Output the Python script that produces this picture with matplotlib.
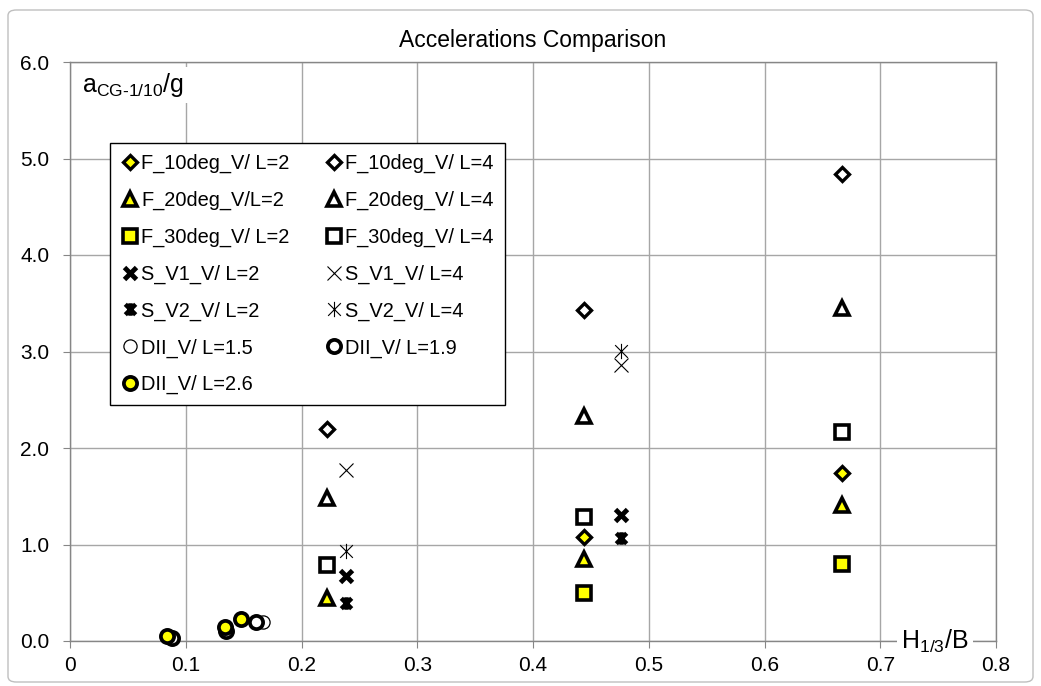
import numpy as np
import matplotlib
matplotlib.use('Agg')
import matplotlib.pyplot as plt
from matplotlib.path import Path
from matplotlib.patches import FancyBboxPatch

plt.rcParams['font.family'] = ['Liberation Sans', 'DejaVu Sans']
plt.rcParams['mathtext.fontset'] = 'custom'
plt.rcParams['mathtext.rm'] = 'Liberation Sans'
plt.rcParams['mathtext.it'] = 'Liberation Sans'

# H1/3/B values
x_F = [0.2222, 0.4444, 0.6667]
x_S = [0.2381, 0.4762]

# F series (planing hulls)
f10_L2 = [np.nan, 1.08, 1.74]
f10_L4 = [2.20, 3.43, 4.84]
f20_L2 = [0.45, 0.85, 1.41]
f20_L4 = [1.48, 2.33, 3.45]
f30_L2 = [np.nan, 0.50, 0.80]
f30_L4 = [0.79, 1.28, 2.17]

# S series
sv1_L2 = [0.67, 1.31]
sv1_L4 = [1.77, 2.86]
sv2_L2 = [0.39, 1.065]
sv2_L4 = [0.93, 3.01]

# DII series
dii15_x = [0.167]
dii15_y = [0.20]
dii19_x = [0.088, 0.135, 0.161]
dii19_y = [0.03, 0.10, 0.20]
dii26_x = [0.084, 0.134, 0.148]
dii26_y = [0.055, 0.14, 0.23]

x_ticks = [0, 0.1, 0.2, 0.3, 0.4, 0.5, 0.6, 0.7, 0.8]
x_ticklabels = ['0', '0.1', '0.2', '0.3', '0.4', '0.5', '0.6', '0.7', '0.8']
y_ticks = [0, 1, 2, 3, 4, 5, 6]

yellow = '#ffff00'
star = Path([(-0.5, -0.5), (0.5, 0.5), (-0.5, 0.5), (0.5, -0.5), (0, -0.6), (0, 0.6)],
            [Path.MOVETO, Path.LINETO, Path.MOVETO, Path.LINETO, Path.MOVETO, Path.LINETO])

fig = plt.figure(figsize=(10.41, 6.86), dpi=100)
ax = fig.add_axes([70/1041, 45/686, 926/1041, 579/686])

kw = dict(ls='none', clip_on=False, zorder=5, mec='black')
h = {}
h['F_10deg_V/ L=2'] = ax.plot(x_F, f10_L2, marker='D', ms=7.5, mew=2.4, mfc=yellow, **kw)[0]
h['F_10deg_V/ L=4'] = ax.plot(x_F, f10_L4, marker='D', ms=7.5, mew=2.4, mfc='white', **kw)[0]
h['F_20deg_V/L=2'] = ax.plot(x_F, f20_L2, marker='^', ms=10, mew=2.6, mfc=yellow, **kw)[0]
h['F_20deg_V/ L=4'] = ax.plot(x_F, f20_L4, marker='^', ms=10, mew=2.6, mfc='white', **kw)[0]
h['F_30deg_V/ L=2'] = ax.plot(x_F, f30_L2, marker='s', ms=9.5, mew=2.6, mfc=yellow, **kw)[0]
h['F_30deg_V/ L=4'] = ax.plot(x_F, f30_L4, marker='s', ms=9.5, mew=2.6, mfc='white', **kw)[0]
h['S_V1_V/ L=2'] = ax.plot(x_S, sv1_L2, marker='x', ms=8, mew=3.5, **kw)[0]
h['S_V1_V/ L=4'] = ax.plot(x_S, sv1_L4, marker='x', ms=10, mew=0.8, **kw)[0]
h['S_V2_V/ L=2'] = ax.plot(x_S, sv2_L2, marker=star, ms=9, mew=3.2, **kw)[0]
h['S_V2_V/ L=4'] = ax.plot(x_S, sv2_L4, marker=star, ms=11, mew=0.8, **kw)[0]
h['DII_V/ L=1.5'] = ax.plot(dii15_x, dii15_y, marker='o', ms=9.5, mew=0.9, mfc='white', **kw)[0]
h['DII_V/ L=1.9'] = ax.plot(dii19_x, dii19_y, marker='o', ms=9.5, mew=2.7, mfc='white', **kw)[0]
h['DII_V/ L=2.6'] = ax.plot(dii26_x, dii26_y, marker='o', ms=9.5, mew=2.7, mfc=yellow, **kw)[0]

ax.set_xlim(0, 0.8)
ax.set_ylim(0, 6)
ax.set_xticks(x_ticks)
ax.set_xticklabels(x_ticklabels)
ax.set_yticks(y_ticks)
ax.set_yticklabels(['%.1f' % v for v in y_ticks])
ax.grid(True, color='#a6a6a6', lw=1)
ax.set_axisbelow(True)
for s in ax.spines.values():
    s.set_color('#868686')
    s.set_linewidth(1)
ax.tick_params(direction='out', length=5, color='#868686', labelsize=15)
ax.tick_params(axis='y', pad=10)
ax.tick_params(axis='x', pad=6)

ax.text(0.934, 0.0, r'H$_{1/3}$/B', transform=ax.transAxes, ha='center', va='center',
        fontsize=18, zorder=6, bbox=dict(fc='white', ec='none', pad=3))
ax.text(0.013, 0.96, r'a$_{\mathregular{CG}\text{-}\mathregular{1/10}}$/g', transform=ax.transAxes,
        ha='left', va='center', fontsize=18, zorder=6, bbox=dict(fc='white', ec='none', pad=3))

fig.text(533/1041, 1 - 40/686, 'Accelerations Comparison', ha='center', va='center', fontsize=16.5)

order = ['F_10deg_V/ L=2', 'F_20deg_V/L=2', 'F_30deg_V/ L=2', 'S_V1_V/ L=2', 'S_V2_V/ L=2',
         'DII_V/ L=1.5', 'DII_V/ L=2.6',
         'F_10deg_V/ L=4', 'F_20deg_V/ L=4', 'F_30deg_V/ L=4', 'S_V1_V/ L=4', 'S_V2_V/ L=4',
         'DII_V/ L=1.9']
leg = ax.legend([h[k] for k in order], order, ncol=2, loc='upper left',
                bbox_to_anchor=(0.0432, 0.86), borderaxespad=0, fontsize=14.4, fancybox=False,
                edgecolor='black', framealpha=1, borderpad=0.55, labelspacing=0.88,
                handletextpad=0.1, handlelength=0.9, columnspacing=1.8)
leg.get_frame().set_linewidth(1)
leg.set_zorder(7)

fig.patches.append(FancyBboxPatch((8/1041, 4/686), 1025/1041, 672/686,
                                  boxstyle='round,pad=0,rounding_size=0.008',
                                  transform=fig.transFigure, fc='none', ec='#bfbfbf', lw=1))

fig.savefig('out.png', dpi=100)
